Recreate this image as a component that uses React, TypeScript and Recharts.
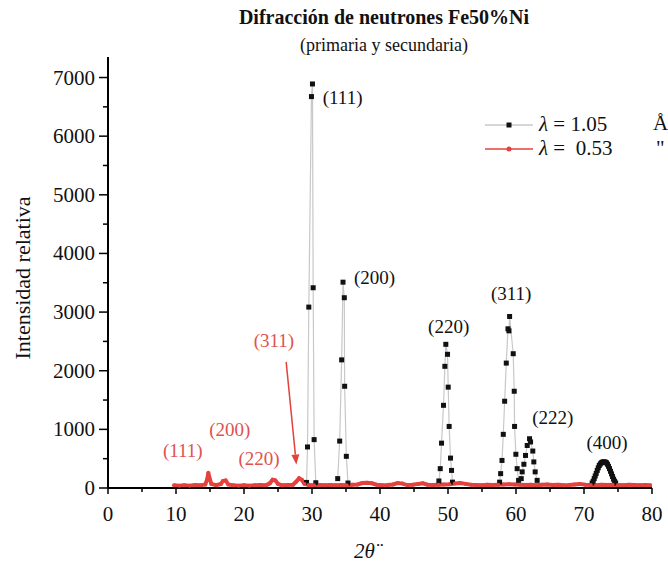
import React from "react";
import { LineChart, Line, XAxis, YAxis, ReferenceDot, ReferenceLine, Legend } from "recharts";

const FONT = '"Liberation Serif", "Times New Roman", serif';
const RED = "#e4423d";

// λ = 1.05 Å  (2θ, intensidad) — null = hueco entre picos
const serie105: [number, number | null][] = [
  [29.2, 95], [29.34, 700], [29.53, 3085], [29.92, 6675], [30.07, 6890], [30.17, 3415], [30.31, 825], [30.56, 90],
  [32, null],
  [33.78, 160], [34.07, 800], [34.36, 2185], [34.56, 3510], [34.75, 3245], [34.8, 1735], [35.05, 540], [35.29, 85],
  [42, null],
  [48.66, 120], [48.86, 330], [49.05, 765], [49.34, 1410], [49.54, 2075], [49.68, 2450], [49.93, 2280], [50.03, 1720],
  [50.17, 1050], [50.37, 510], [50.52, 300], [50.66, 100],
  [54, null],
  [57.59, 100], [57.74, 245], [57.94, 470], [58.13, 915], [58.33, 1480], [58.57, 2130], [58.82, 2715], [58.96, 2680],
  [59.06, 2925], [59.59, 2290], [59.74, 1650], [59.79, 1050], [59.98, 575], [60.17, 330], [60.38, 130],
  [60.77, 160], [60.91, 275], [61.16, 405], [61.4, 555], [61.65, 725], [61.99, 840], [62.14, 785], [62.47, 630],
  [62.62, 445], [62.82, 275], [63.11, 130],
  [67, null],
  [71.2, 85], [71.35, 115], [71.5, 160], [71.65, 205], [71.8, 250], [71.95, 300], [72.1, 345], [72.25, 385],
  [72.4, 410], [72.55, 430], [72.7, 440], [72.85, 445], [73.0, 445], [73.15, 440], [73.3, 430], [73.45, 405],
  [73.6, 370], [73.75, 330], [73.9, 285], [74.05, 240], [74.2, 195], [74.35, 150], [74.5, 115], [74.65, 85],
];

// λ = 0.53 Å
const serie053: [number, number][] = [
  [9.7, 45], [10.5, 40], [11.2, 45], [12, 40], [12.8, 50], [13.6, 45], [14.3, 60], [14.6, 150], [14.75, 260],
  [14.9, 180], [15.2, 70], [15.9, 50], [16.6, 70], [16.9, 120], [17.3, 130], [17.7, 60], [18.4, 45], [19.2, 40],
  [20, 45], [20.8, 40], [21.6, 45], [22.4, 50], [23.2, 45], [23.8, 80], [24.2, 140], [24.6, 130], [25, 70],
  [25.6, 45], [26.4, 50], [27.2, 55], [27.7, 110], [28.1, 165], [28.5, 140], [28.9, 70], [29.5, 50], [30.3, 45],
  [31.1, 50], [31.9, 45], [32.7, 50], [33.5, 45], [34.3, 50], [35.1, 45], [35.9, 55], [36.7, 60], [37.4, 85],
  [38.1, 90], [38.8, 80], [39.5, 55], [40.3, 45], [41.1, 50], [41.9, 60], [42.6, 85], [43.3, 75], [44, 50],
  [44.8, 55], [45.6, 70], [46.3, 80], [47, 55], [47.8, 50], [48.6, 55], [49.4, 60], [50.2, 65], [51, 75],
  [51.8, 85], [52.6, 70], [53.4, 55], [54.2, 50], [55, 45], [55.8, 55], [56.6, 50], [57.4, 55], [58.2, 60],
  [59, 65], [59.8, 60], [60.6, 55], [61.4, 50], [62.2, 55], [63, 45], [63.8, 55], [64.6, 60], [65.4, 50],
  [66.2, 55], [67, 45], [67.8, 50], [68.6, 60], [69.4, 70], [70.2, 55], [71, 50], [71.8, 45], [72.6, 55],
  [73.4, 50], [74.2, 55], [75, 50], [75.8, 45], [76.6, 55], [77.4, 50], [78.2, 45], [79, 50], [79.8, 45],
];

const xTicks = [0, 5, 10, 15, 20, 25, 30, 35, 40, 45, 50, 55, 60, 65, 70, 75, 80];
const yTicks = [0, 500, 1000, 1500, 2000, 2500, 3000, 3500, 4000, 4500, 5000, 5500, 6000, 6500, 7000];

const etiquetas105 = [
  { x: 34.5, y: 6670, t: "(111)" },
  { x: 39.2, y: 3600, t: "(200)" },
  { x: 50.1, y: 2750, t: "(220)" },
  { x: 59.3, y: 3320, t: "(311)" },
  { x: 65.4, y: 1210, t: "(222)" },
  { x: 73.4, y: 785, t: "(400)" },
];
const etiquetas053 = [
  { x: 11.0, y: 645, t: "(111)" },
  { x: 17.9, y: 1000, t: "(200)" },
  { x: 22.2, y: 500, t: "(220)" },
  { x: 24.4, y: 2520, t: "(311)" },
];
const flecha311 = [{ x: 26.2, y: 2150 }, { x: 27.7, y: 400 }];

const d105 = serie105.map(([x, y]) => ({ x, y }));
const d053 = serie053.map(([x, y]) => ({ x, y }));

const XTick = (p: any) => {
  const v = p.payload.value;
  const major = v % 10 === 0;
  return (
    <g>
      <line x1={p.x} x2={p.x} y1={p.y} y2={p.y + (major ? 6 : 4)} stroke="#000" strokeWidth={1.5} />
      {major && (
        <text x={p.x} y={p.y + 33} textAnchor="middle" fontSize={21} fontFamily={FONT} fill="#111">
          {v}
        </text>
      )}
    </g>
  );
};

const YTick = (p: any) => {
  const v = p.payload.value;
  const major = v % 1000 === 0;
  return (
    <g>
      <line x1={p.x} x2={p.x - (major ? 9 : 5)} y1={p.y} y2={p.y} stroke="#000" strokeWidth={1.5} />
      {major && (
        <text x={p.x - 13} y={p.y + 7} textAnchor="end" fontSize={21} fontFamily={FONT} fill="#111">
          {v}
        </text>
      )}
    </g>
  );
};

const Cuadro = (p: any) => {
  if (p.cy == null || p.cx == null) return <g key={p.index} />;
  return <rect key={p.index} x={p.cx - 2.5} y={p.cy - 2.5} width={5} height={5} fill="#111" />;
};

const Flecha = (p: any) => {
  const { x1, y1, x2, y2 } = p;
  const a = Math.atan2(y2 - y1, x2 - x1);
  const L = 10, W = 4;
  const bx = x2 - L * Math.cos(a), by = y2 - L * Math.sin(a);
  const px = -Math.sin(a) * W, py = Math.cos(a) * W;
  return (
    <g>
      <line x1={x1} y1={y1} x2={bx} y2={by} stroke={RED} strokeWidth={1.5} />
      <polygon points={`${x2},${y2} ${bx + px},${by + py} ${bx - px},${by - py}`} fill={RED} />
    </g>
  );
};

const Leyenda = () => (
  <div style={{ fontFamily: FONT, fontSize: 21, color: "#111", position: "relative", width: 190, height: 52 }}>
    <div style={{ position: "absolute", left: 0, top: 0, height: 25, display: "flex", alignItems: "center" }}>
      <svg width={52} height={12}>
        <line x1={2} x2={50} y1={6} y2={6} stroke="#c8c8c8" strokeWidth={1.5} />
        <rect x={23.5} y={3.5} width={5} height={5} fill="#111" />
      </svg>
      <span style={{ marginLeft: 4, whiteSpace: "nowrap" }}>
        <i>λ</i> = 1.05
      </span>
    </div>
    <span style={{ position: "absolute", left: 170, top: -1 }}>Å</span>
    <div style={{ position: "absolute", left: 0, top: 24, height: 25, display: "flex", alignItems: "center" }}>
      <svg width={52} height={12}>
        <line x1={2} x2={50} y1={6} y2={6} stroke={RED} strokeWidth={1.5} />
        <circle cx={26} cy={6} r={2.5} fill={RED} />
      </svg>
      <span style={{ marginLeft: 4, whiteSpace: "nowrap" }}>
        <i>λ</i> = &nbsp;0.53
      </span>
    </div>
    <span style={{ position: "absolute", left: 173, top: 24 }}>"</span>
  </div>
);

export default function App() {
  return (
    <div style={{ position: "absolute", left: 0, top: 0, width: 668, height: 567, background: "#fff" }}>
      <div style={{ position: "absolute", left: 384, top: 17, transform: "translate(-50%,-50%)", fontFamily: FONT, fontWeight: "bold", fontSize: 20, whiteSpace: "nowrap", color: "#111" }}>
        Difracción de neutrones Fe50%Ni
      </div>
      <div style={{ position: "absolute", left: 384, top: 45, transform: "translate(-50%,-50%)", fontFamily: FONT, fontSize: 18, whiteSpace: "nowrap", color: "#111" }}>
        (primaria y secundaria)
      </div>
      <div style={{ position: "absolute", left: 23, top: 278, transform: "translate(-50%,-50%) rotate(-90deg)", fontFamily: FONT, fontSize: 22, whiteSpace: "nowrap", color: "#111" }}>
        Intensidad relativa
      </div>
      <div style={{ position: "absolute", left: 368, top: 551, transform: "translate(-50%,-50%)", fontFamily: FONT, fontSize: 21, fontStyle: "italic", whiteSpace: "nowrap", color: "#111" }}>
        2θ¨
      </div>
      <LineChart width={668} height={567} margin={{ top: 57, right: 16, bottom: 19, left: 0 }}>
        <XAxis
          dataKey="x"
          type="number"
          domain={[0, 80]}
          ticks={xTicks}
          interval={0}
          height={60}
          tickSize={0}
          tickMargin={0}
          tick={<XTick />}
          axisLine={{ stroke: "#000", strokeWidth: 2 }}
          allowDataOverflow
        />
        <YAxis
          type="number"
          domain={[0, 7350]}
          ticks={yTicks}
          interval={0}
          width={108}
          tickSize={0}
          tickMargin={0}
          tick={<YTick />}
          axisLine={{ stroke: "#000", strokeWidth: 2 }}
          allowDataOverflow
        />
        <Legend layout="vertical" align="center" verticalAlign="middle" content={<Leyenda />} wrapperStyle={{ left: 483, top: 112, width: 190 }} />
        <Line
          name="λ = 1.05"
          data={d105}
          dataKey="y"
          stroke="#c8c8c8"
          strokeWidth={1.2}
          dot={Cuadro}
          activeDot={false}
          isAnimationActive={false}
        />
        <Line
          name="λ = 0.53"
          data={d053}
          dataKey="y"
          stroke={RED}
          strokeWidth={4}
          dot={{ r: 2, fill: RED, stroke: "none" }}
          activeDot={false}
          isAnimationActive={false}
        />
        <ReferenceLine segment={flecha311} shape={Flecha} ifOverflow="visible" />
        {etiquetas105.map((e) => (
          <ReferenceDot
            key={"b" + e.t}
            x={e.x}
            y={e.y}
            r={1}
            fill="none"
            stroke="none"
            ifOverflow="visible"
            label={{ value: e.t, position: "center", fill: "#111", fontSize: 19, fontFamily: FONT }}
          />
        ))}
        {etiquetas053.map((e) => (
          <ReferenceDot
            key={"r" + e.t}
            x={e.x}
            y={e.y}
            r={1}
            fill="none"
            stroke="none"
            ifOverflow="visible"
            label={{ value: e.t, position: "center", fill: "#e0524f", fontSize: 19, fontFamily: FONT }}
          />
        ))}
      </LineChart>
    </div>
  );
}
